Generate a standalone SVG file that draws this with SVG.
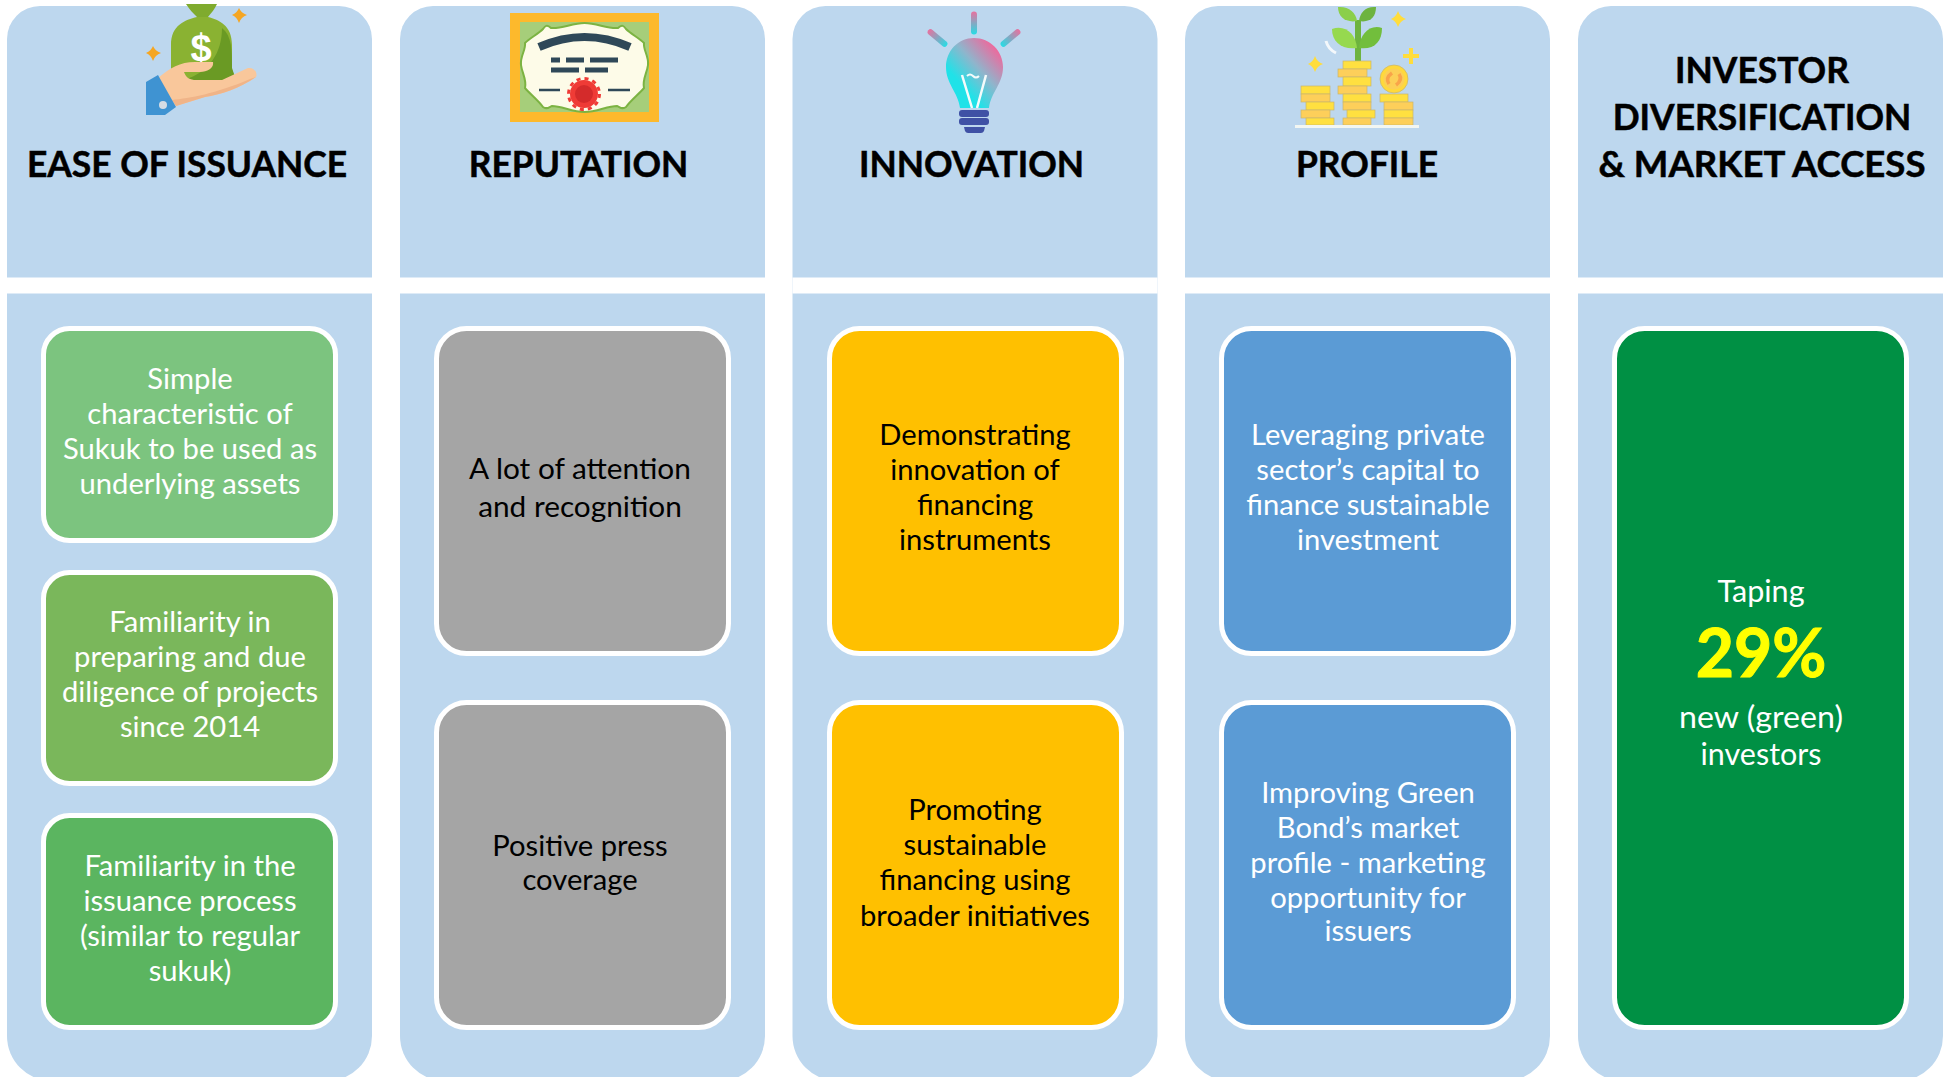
<svg xmlns="http://www.w3.org/2000/svg" width="1953" height="1077" viewBox="0 0 1953 1077">
<style>
text{font-family:"Lato","Carlito","Noto Sans",sans-serif;text-anchor:middle}
.panel{fill:#BDD7EE}
.band{fill:#fff}
.h{font-weight:700;font-size:35.4px;fill:#000;stroke:#000;stroke-width:.5px}
.t{font-size:29.2px;fill:#fff}
.k{font-size:29.2px;fill:#000}
.card{stroke:#fff;stroke-width:5}
.big{font-size:29.8px}
.y{fill:#FFE040}.o{fill:#FDCF5A}
.y,.o{stroke:#C8B56E;stroke-width:.7}
.star{fill:#F5A623}.ystar{fill:#FFDD3C}
</style>
<defs>
<linearGradient id="bulbG" x1="0.85" y1="0.1" x2="0.2" y2="0.8"><stop offset="0" stop-color="#F0679B"/><stop offset="0.45" stop-color="#8FB5CC"/><stop offset="0.85" stop-color="#20E2E8"/></linearGradient>
<linearGradient id="rayG" x1="0" y1="0" x2="0" y2="1"><stop offset="0" stop-color="#E9709E"/><stop offset="1" stop-color="#25DDE5"/></linearGradient>
</defs>
<rect width="1953" height="1077" fill="#fff"/>

<g id="col-ease">
<path class="panel" d="M7 39a33 33 0 0 1 33-33h299a33 33 0 0 1 33 33V1036a45 45 0 0 1-45 45H52a45 45 0 0 1-45-45Z"/>
<rect class="band" x="7" y="277.500" width="365" height="16"/>
<g id="icon-bag">
<path d="M186 4H217C215 9 211 13 208 17H197C193 13 189 9 186 4Z" fill="#7FAB2E"/>
<path d="M197 17C185 20 171 25 171 45V72L171 80H236L232 70V45C232 25 219 20 208 17Z" fill="#8AB232"/>
<path d="M222 28C232 36 232 50 232 68L236 80H184C210 72 222 52 222 28Z" fill="#6A9A24"/>
<text x="201" y="61" style="font-family:'Liberation Sans',sans-serif;font-weight:700;font-size:38px;fill:#fff">$</text>
<path d="M158 78C170 68 180 62 195 62H213C214 68 208 72 200 72H184C186 78 190 80 196 80H222L248 68C254 67 258 73 256 77C240 88 220 95 205 97L176 106Z" fill="#F9C79B"/>
<path d="M176 106L172 100C190 98 215 94 250 79L256 77C240 88 220 95 205 97Z" fill="#F0B488"/>
<path d="M146 82L158 75L176 107L165 115H146Z" fill="#3F93D2"/>
<circle cx="163" cy="105" r="4" fill="#D5DCE4"/>
<path class="star" d="M153 46Q155 51 161 53Q155 55 153 61Q151 55 146 53Q151 51 153 46Z"/>
<path class="star" d="M239 8Q241 13 247 15Q241 17 239 23Q237 17 232 15Q237 13 239 8Z"/>
</g>
<text class="h" x="187" y="177">EASE OF ISSUANCE</text>
<g id="card-ease-1"><rect class="card" x="43.500" y="328.500" width="292" height="212" rx="26" fill="#7CC47F"/>
<text class="t" x="190" y="389">Simple</text><text class="t" x="190" y="424">characteristic of</text><text class="t" x="190" y="459">Sukuk to be used as</text><text class="t" x="190" y="494">underlying assets</text></g>
<g id="card-ease-2"><rect class="card" x="43.500" y="572.500" width="292" height="211" rx="26" fill="#7AB75B"/>
<text class="t" x="190" y="632">Familiarity in</text><text class="t" x="190" y="667">preparing and due</text><text class="t" x="190" y="702">diligence of projects</text><text class="t" x="190" y="737">since 2014</text></g>
<g id="card-ease-3"><rect class="card" x="43.500" y="815.500" width="292" height="212" rx="26" fill="#5BB560"/>
<text class="t" x="190" y="876">Familiarity in the</text><text class="t" x="190" y="911">issuance process</text><text class="t" x="190" y="946">(similar to regular</text><text class="t" x="190" y="981">sukuk)</text></g>
</g>

<g id="col-reputation">
<path class="panel" d="M400 39a33 33 0 0 1 33-33h299a33 33 0 0 1 33 33V1036a45 45 0 0 1-45 45H445a45 45 0 0 1-45-45Z"/>
<rect class="band" x="400" y="277.500" width="365" height="16"/>
<g id="icon-certificate">
<rect x="510" y="13" width="149" height="109" fill="#FDB92C"/>
<rect x="520" y="22" width="129" height="90" fill="#A6CE7A"/>
<path d="M584.500 23C572 23 562 29 551 28C547 24 545 26 543 29C538 34 530 38 525 43C526 50 520 56 521 65C522 73 527 80 525 88C530 94 538 100 543 107C547 110 549 107 552 106C562 106 572 112 584.500 112C597 112 607 106 617 106C620 107 622 110 626 107C631 100 639 94 644 88C642 80 647 73 648 65C649 56 643 50 644 43C639 38 631 34 626 29C624 26 622 24 618 28C607 29 597 23 584.500 23Z" fill="#FDFBE8" stroke="#7CB342" stroke-width="2"/>
<path d="M539 47Q584.500 27 630 47" fill="none" stroke="#2F4858" stroke-width="8"/>
<path d="M551 60H560M566 60H584M590 60H618M551 70H579M585 70H608" stroke="#2F4858" stroke-width="5" fill="none"/>
<path d="M539 90H560M608 90H630" stroke="#2F4858" stroke-width="2.500" fill="none"/>
<circle cx="584" cy="94" r="14" fill="#EF3B36"/>
<circle cx="584" cy="94" r="15.500" fill="none" stroke="#EF3B36" stroke-width="3" stroke-dasharray="4.060 4.060"/>
<circle cx="584" cy="94" r="9" fill="#D42B2B"/>
</g>
<text class="h" x="578.500" y="177">REPUTATION</text>
<g id="card-rep-1"><rect class="card" x="436.500" y="328.500" width="292" height="325" rx="30" fill="#A5A5A5"/>
<text class="k big" x="580" y="479">A lot of attention</text><text class="k big" x="580" y="517">and recognition</text></g>
<g id="card-rep-2"><rect class="card" x="436.500" y="702.500" width="292" height="325" rx="30" fill="#A5A5A5"/>
<text class="k" x="580" y="856">Positive press</text><text class="k" x="580" y="890">coverage</text></g>
</g>

<g id="col-innovation">
<path class="panel" d="M792.500 39a33 33 0 0 1 33-33h299a33 33 0 0 1 33 33V1036a45 45 0 0 1-45 45H837.500a45 45 0 0 1-45-45Z"/>
<rect class="band" x="792.500" y="277.500" width="365" height="16"/>
<g id="icon-bulb">
<rect x="971" y="11.500" width="6" height="23" rx="3" fill="url(#rayG)"/>
<rect x="-3" y="-12" width="6" height="24" rx="3" fill="url(#rayG)" transform="translate(937.500 38) rotate(-50)"/>
<rect x="-3" y="-12" width="6" height="24" rx="3" fill="url(#rayG)" transform="translate(1010.500 38) rotate(50)"/>
<path d="M974 38C958 38 946 51 946 67C946 84 958 92 960 108H989C991 92 1003 84 1003 67C1003 51 990 38 974 38Z" fill="url(#bulbG)"/>
<path d="M962 75L972 108M986 75L977 108" stroke="#F4FBFB" stroke-width="2.500" fill="none"/>
<path d="M967 76Q970 73 973 76T979 76" stroke="#F4FBFB" stroke-width="2" fill="none"/>
<rect x="959" y="110" width="30" height="7" rx="3" fill="#3F51A5"/>
<rect x="959" y="118" width="30" height="7" rx="3" fill="#3F51A5"/>
<path d="M964 127H985L984 131Q983 133 981 133H968Q966 133 965 131Z" fill="#3F51A5"/>
</g>
<text class="h" x="971.500" y="177">INNOVATION</text>
<g id="card-inn-1"><rect class="card" x="829.500" y="328.500" width="292" height="325" rx="30" fill="#FFC000"/>
<text class="k" x="975" y="445">Demonstrating</text><text class="k" x="975" y="480">innovation of</text><text class="k" x="975" y="515">financing</text><text class="k" x="975" y="550">instruments</text></g>
<g id="card-inn-2"><rect class="card" x="829.500" y="702.500" width="292" height="325" rx="30" fill="#FFC000"/>
<text class="k" x="975" y="820">Promoting</text><text class="k" x="975" y="855">sustainable</text><text class="k" x="975" y="890">financing using</text><text class="k" x="975" y="926">broader initiatives</text></g>
</g>

<g id="col-profile">
<path class="panel" d="M1185 39a33 33 0 0 1 33-33h299a33 33 0 0 1 33 33V1036a45 45 0 0 1-45 45H1230a45 45 0 0 1-45-45Z"/>
<rect class="band" x="1185" y="277.500" width="365" height="16"/>
<g id="icon-coins">
<rect x="1355" y="20" width="6" height="42" fill="#6DB33F"/>
<path d="M1338 7C1348 6 1356 12 1357 21C1346 23 1338 17 1338 7Z" fill="#8BCF4A"/>
<path d="M1376 7C1366 6 1360 12 1359 21C1370 23 1376 17 1376 7Z" fill="#6DB33F"/>
<path d="M1332 29C1345 24 1356 34 1357 48C1342 50 1332 42 1332 29Z" fill="#96D94F"/>
<path d="M1382 28C1370 24 1360 34 1359 48C1374 50 1382 42 1382 28Z" fill="#72BE3C"/>
<path class="ystar" d="M1398 11Q1400 17 1406 19Q1400 21 1398 27Q1396 21 1391 19Q1396 17 1398 11Z"/>
<path class="ystar" d="M1315 56Q1317 62 1323 64Q1317 66 1315 72Q1313 66 1308 64Q1313 62 1315 56Z"/>
<path d="M1411 48V64M1403 56H1419" stroke="#FFDD3C" stroke-width="4" fill="none"/>
<path d="M1326 41Q1328 49 1336 53" stroke="#F4F8FB" stroke-width="3" fill="none"/>
<rect class="y" x="1301" y="86" width="29" height="8"/><rect class="o" x="1301" y="94" width="29" height="8"/><rect class="y" x="1306" y="102" width="28" height="8"/><rect class="o" x="1301" y="110" width="29" height="8"/><rect class="y" x="1306" y="118" width="28" height="7"/>
<rect class="y" x="1343" y="61" width="28" height="8"/><rect class="o" x="1338" y="69" width="29" height="8"/><rect class="y" x="1343" y="77" width="28" height="9"/><rect class="o" x="1338" y="86" width="29" height="8"/><rect class="y" x="1343" y="94" width="28" height="8"/><rect class="o" x="1343" y="102" width="28" height="8"/><rect class="y" x="1347" y="110" width="28" height="8"/><rect class="o" x="1343" y="118" width="28" height="7"/>
<rect class="y" x="1380" y="94" width="28" height="8"/><rect class="o" x="1384" y="102" width="29" height="8"/><rect class="y" x="1384" y="110" width="29" height="8"/><rect class="o" x="1384" y="118" width="29" height="7"/>
<circle cx="1394" cy="79" r="14" fill="#FFD93B" stroke="#C8B56E" stroke-width=".7"/>
<circle cx="1394" cy="79" r="10.500" fill="#FCCF57"/>
<path d="M1389 84Q1385 78 1392 73M1399 74Q1403 80 1396 85" stroke="#F9A44A" stroke-width="3.500" fill="none"/>
<rect x="1295" y="125" width="124" height="3" fill="#F2F6F2"/>
</g>
<text class="h" x="1367" y="177">PROFILE</text>
<g id="card-pro-1"><rect class="card" x="1221.500" y="328.500" width="292" height="325" rx="30" fill="#5B9BD5"/>
<text class="t" x="1368" y="445">Leveraging private</text><text class="t" x="1368" y="480">sector’s capital to</text><text class="t" x="1368" y="515">finance sustainable</text><text class="t" x="1368" y="550">investment</text></g>
<g id="card-pro-2"><rect class="card" x="1221.500" y="702.500" width="292" height="325" rx="30" fill="#5B9BD5"/>
<text class="t" x="1368" y="803">Improving Green</text><text class="t" x="1368" y="838">Bond’s market</text><text class="t" x="1368" y="873">profile - marketing</text><text class="t" x="1368" y="908">opportunity for</text><text class="t" x="1368" y="941">issuers</text></g>
</g>

<g id="col-investor">
<path class="panel" d="M1578 39a33 33 0 0 1 33-33h299a33 33 0 0 1 33 33V1036a45 45 0 0 1-45 45H1623a45 45 0 0 1-45-45Z"/>
<rect class="band" x="1578" y="277.500" width="365" height="16"/>
<text class="h" x="1762" y="83">INVESTOR</text><text class="h" x="1762" y="130">DIVERSIFICATION</text><text class="h" x="1762" y="177" textLength="327" lengthAdjust="spacingAndGlyphs">&amp; MARKET ACCESS</text>
<g id="card-inv-1"><rect class="card" x="1614.500" y="328.500" width="292" height="699" rx="30" fill="#009044"/>
<text class="t" x="1761" y="602" textLength="87" lengthAdjust="spacingAndGlyphs" style="font-size:31px">Taping</text>
<text x="1761" y="677" style="font-weight:700;font-size:66px;fill:#FFFF00;stroke:#FFFF00;stroke-width:1px">29%</text>
<text class="t" x="1761" y="728" textLength="164" lengthAdjust="spacingAndGlyphs" style="font-size:31px">new (green)</text><text class="t" x="1761" y="765" textLength="121" lengthAdjust="spacingAndGlyphs" style="font-size:31px">investors</text></g>
</g>
</svg>
